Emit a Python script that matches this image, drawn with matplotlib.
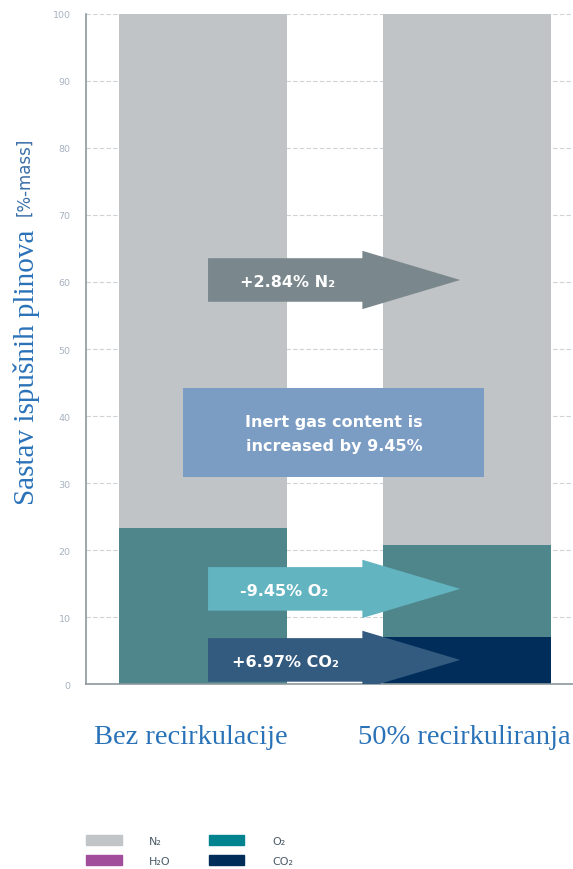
import matplotlib
matplotlib.use("Agg")
from matplotlib import pyplot as plt
from matplotlib.patches import FancyArrow, Rectangle, Patch
import numpy as np

# data
categories = ["Bez recirkulacije", "50% recirkuliranja"]
co2 = [0.0, 6.97]
o2 = [23.3, 13.85]
n2 = [76.7, 79.18]
legend_labels = ["N₂", "H₂O", "O₂", "CO₂"]
legend_colors = ["#c1c5c8", "#a24d9c", "#00838f", "#002c5a"]
arrow_labels = ["+2.84% N₂", "-9.45% O₂", "+6.97% CO₂"]
arrow_y = [60.3, 14.2, 3.6]
box_text = "Inert gas content is\nincreased by 9.45%"

c_n2 = "#c0c4c7"
c_o2 = "#4f868b"
c_co2 = "#002d5a"
arrow_cols = ["#7a878c", "#62b4c1", "#335a7f"]

fig = plt.figure(figsize=(5.73, 8.70), dpi=100)
ax = fig.add_axes([0.150, 0.2126, 0.85, 0.7702])

x = np.arange(len(categories))
w = 0.636
co2 = np.array(co2)
o2 = np.array(o2)
n2 = np.array(n2)
ax.bar(x, co2, w, color=c_co2, zorder=2)
ax.bar(x, o2, w, bottom=co2, color=c_o2, zorder=2)
ax.bar(x, n2, w, bottom=co2 + o2, color=c_n2, zorder=2)

ax.set_xlim(-0.443, 1.40)
ax.set_ylim(0, 100)
ax.set_yticks(np.arange(0, 101, 10))
ax.tick_params(axis="y", length=0, pad=11, labelsize=6.8, labelcolor="#a8b2c2")
ax.set_xticks(x + np.array([-0.045, -0.01]))
ax.set_xticklabels(categories, family="Liberation Serif", fontsize=20.5, color="#2a72b8")
ax.tick_params(axis="x", length=0, pad=29)
ax.yaxis.grid(True, color="#cfd3d6", linestyle=(0, (4, 2)), linewidth=0.8, zorder=0)
ax.set_axisbelow(True)
for s in ["top", "right"]:
    ax.spines[s].set_visible(False)
for s in ["left", "bottom"]:
    ax.spines[s].set_color("#8c979c")
    ax.spines[s].set_linewidth(1.2)

# arrows
for lab, yy, col in zip(arrow_labels, arrow_y, arrow_cols):
    ax.add_patch(FancyArrow(0.019, yy, 0.954, 0, width=6.5, head_width=8.7,
                            head_length=0.37, length_includes_head=True,
                            color=col, lw=0, zorder=4))
    ax.text(0.11 if "CO" in lab else 0.14, yy - 0.2, lab,
            color="white", fontsize=11.5, fontweight="bold",
            family="DejaVu Sans", ha="left", va="center", zorder=5)

# box
ax.add_patch(Rectangle((-0.076, 30.9), 1.14, 13.3, color="#7b9cc3", lw=0, zorder=4))
ax.text(0.496, 37.4, box_text, color="white", fontsize=11.5, fontweight="bold",
        family="DejaVu Sans", ha="center", va="center",
        linespacing=1.7, zorder=5)

# y label
fig.text(0.047, 0.578, "Sastav ispušnih plinova", rotation=90, ha="center", va="center",
         family="Liberation Serif", fontsize=21, color="#2a72b8")
fig.text(0.042, 0.797, "[%-mass]", rotation=90, ha="center", va="center",
         fontsize=12, color="#3a6fa8")

handles = [Patch(color=c) for c in legend_colors]
fig.legend(handles, legend_labels, loc="upper left", bbox_to_anchor=(0.150, 0.039),
           ncol=2, frameon=False, fontsize=8, handlelength=3.2, handleheight=1.0,
           handletextpad=2.5, columnspacing=3.4, labelspacing=0.8, borderpad=0,
           borderaxespad=0, labelcolor="#4a5a66")

fig.savefig("out.png", dpi=100)
